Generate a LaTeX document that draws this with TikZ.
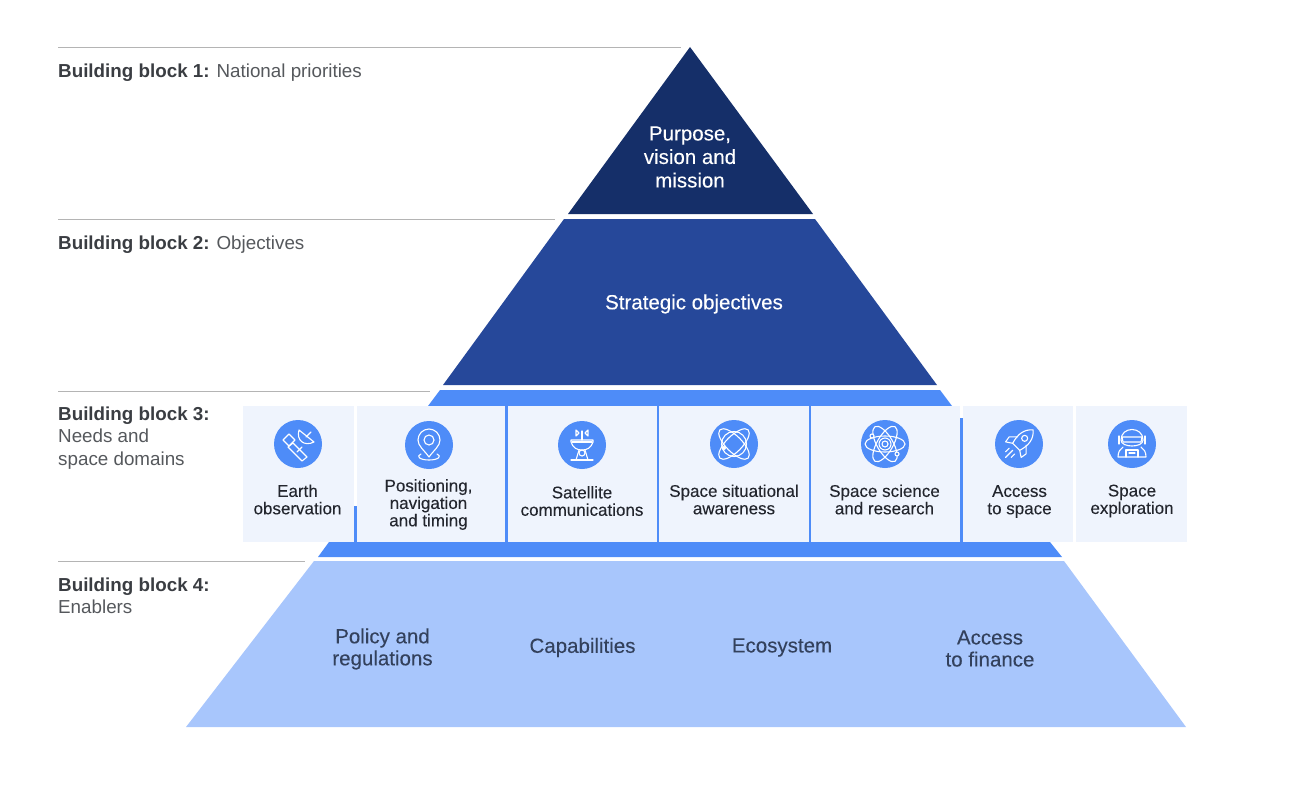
\documentclass[tikz,border=0pt]{standalone}
\usepackage{fontspec}
\setmainfont{Liberation Sans}
\newfontfamily\mediumfont[FakeBold=0.15]{Liberation Sans}
\usetikzlibrary{calc}

\definecolor{navytop}{HTML}{152F69}
\definecolor{navymid}{HTML}{26489A}
\definecolor{bandblue}{HTML}{4E8CF8}
\definecolor{paleblue}{HTML}{A8C6FC}
\definecolor{panelblue}{HTML}{EFF4FD}
\definecolor{rulegrey}{HTML}{B4B4B4}
\definecolor{labelgrey}{HTML}{55585C}
\definecolor{labeldark}{HTML}{3A3D42}
\definecolor{itemdark}{HTML}{23262E}
\definecolor{enablergrey}{HTML}{33415C}

\tikzset{
    blocklabel/.style={anchor=north west, align=left, inner sep=0pt, text=labelgrey, font=\fontsize{18.8}{22.4}\selectfont},
    tiertext/.style={align=center, inner sep=0pt, text=white, font=\mediumfont\fontsize{20.5}{23.5}\selectfont},
    itemtext/.style={align=center, inner sep=0pt, text=itemdark, font=\mediumfont\fontsize{17}{17.4}\selectfont},
    enablertext/.style={align=center, inner sep=0pt, text=enablergrey, font=\mediumfont\fontsize{20.5}{22}\selectfont},
    glyph/.style={draw=white, line width=1.1pt, line join=round, line cap=round},
}

\newcommand{\iconbase}[2]{\fill [bandblue] (#1,#2) circle (24);}

\begin{document}
\begin{tikzpicture}[x=1pt, y=-1pt]
    \useasboundingbox (0,0) rectangle (1308,792);

    \coordinate (apex) at (690,47);
    \coordinate (baseL) at (568,214);
    \coordinate (baseR) at (813,214);

    % pyramid tiers
    \fill [navytop] (apex) -- (baseR) -- (baseL) -- cycle;
    \fill [navymid] (564,219) -- (815,219) -- (937,385) -- (443,385) -- cycle;
    \fill [bandblue] (440,390) -- (940,390) -- (952,406) -- (428,406) -- cycle;
    \fill [bandblue] (329,542) -- (1050,542) -- (1062,557) -- (318,557) -- cycle;
    \fill [paleblue] (314,561) -- (1064,561) -- (1186,727) -- (186,727) -- cycle;

    % panels of the middle row
    \fill [panelblue] (243,406) rectangle (354,542);
    \fill [panelblue] (356.5,406) rectangle (505,542);
    \fill [panelblue] (507.5,406) rectangle (656.5,542);
    \fill [panelblue] (659,406) rectangle (808.5,542);
    \fill [panelblue] (811,406) rectangle (960,542);
    \fill [panelblue] (962.5,406) rectangle (1073,542);
    \fill [panelblue] (1076,406) rectangle (1187,542);
    \fill [bandblue] (354,506) rectangle (356.5,542);
    \fill [bandblue] (505,406) rectangle (507.5,542);
    \fill [bandblue] (656.5,406) rectangle (659,542);
    \fill [bandblue] (808.5,406) rectangle (811,542);
    \fill [bandblue] (960,418) rectangle (962.5,542);

    % rules and block labels
    \draw [rulegrey, line width=0.8pt] (58,47.5) -- (681,47.5);
    \draw [rulegrey, line width=0.8pt] (58,219.5) -- (555,219.5);
    \draw [rulegrey, line width=0.8pt] (58,391) -- (430,391);
    \draw [rulegrey, line width=0.8pt] (58,561) -- (305,561);

    \node [blocklabel] (blockone) at (58,63.5) {\textcolor{labeldark}{\textbf{Building block 1:}} National priorities};
    \node [blocklabel] (blocktwo) at (58,235.5) {\textcolor{labeldark}{\textbf{Building block 2:}} Objectives};
    \node [blocklabel] (blockthree) at (58,406.5) {\textcolor{labeldark}{\textbf{Building block 3:}}\\Needs and\\space domains};
    \node [blocklabel] (blockfour) at (58,577.5) {\textcolor{labeldark}{\textbf{Building block 4:}}\\Enablers};

    % tier texts
    \node [tiertext] (purpose) at (690,157) {Purpose,\\vision and\\mission};
    \node [tiertext] (strategic) at (694,304) {Strategic objectives};

    \node [enablertext] (policy) at (382.5,649) {Policy and\\regulations};
    \node [enablertext] (capabilities) at (582.5,647.5) {Capabilities};
    \node [enablertext] (ecosystem) at (782,647.5) {Ecosystem};
    \node [enablertext] (finance) at (990,648.5) {Access\\to finance};

    % item texts
    \node [itemtext] (earth) at (297.5,499.5) {Earth\\observation};
    \node [itemtext] (pnt) at (428.5,504.5) {Positioning,\\navigation\\and timing};
    \node [itemtext] (satcom) at (582,501) {Satellite\\communications};
    \node [itemtext] (ssa) at (734,499.5) {Space situational\\awareness};
    \node [itemtext] (science) at (884.5,499.5) {Space science\\and research};
    \node [itemtext] (access) at (1019.5,501.5) {Access\\to space};
    \node [itemtext] (explore) at (1132,501) {Space\\exploration};

    % icons
    \iconbase{298}{444}
    \begin{scope}[shift={(298,444)}, glyph]
        \draw (-9,-10) -- (-3,-4) -- (-9,2) -- (-15,-4) -- cycle;
        \draw (-5,-1) -- (9,13) -- (4,17) -- (-10,3) -- cycle;
        \draw (-1,8) -- (4,3);
        \draw (1,-14) .. controls (-2,-4) and (6,3) .. (16,-2) -- cycle;
        \draw (8,-7) -- (13,-12);
    \end{scope}

    \iconbase{429}{445}
    \begin{scope}[shift={(429,445)}, glyph]
        \draw (0,12) .. controls (-5,5) and (-11,1) .. (-11,-5) arc (180:360:11) .. controls (11,1) and (5,5) .. (0,12) -- cycle;
        \draw (0,-5) circle (5);
        \draw (-8,9) .. controls (-13,11) and (-10,15) .. (0,15) .. controls (10,15) and (13,11) .. (8,9);
    \end{scope}

    \iconbase{582}{445}
    \begin{scope}[shift={(582,445)}, glyph]
        \draw (-11,-5) -- (11,-5) -- (11,-3) .. controls (9,3) and (5,5) .. (0,5) .. controls (-5,5) and (-9,3) .. (-11,-3) -- cycle;
        \draw (-10,-3) -- (10,-3);
        \draw (0,8) circle (3);
        \draw (-3,5) -- (-6,15);
        \draw (3,5) -- (6,15);
        \draw (-11,15) -- (11,15);
        \draw (0,-5) -- (0,-14);
        \draw (-6,-15) -- (-3,-12) -- (-6,-9) -- cycle;
        \draw (6,-15) -- (3,-12) -- (6,-9) -- cycle;
    \end{scope}

    \iconbase{734}{444}
    \begin{scope}[shift={(734,444)}, glyph]
        \draw (0,0) circle (12.5);
        \draw [rotate=45] (0,0) ellipse (20 and 8);
        \draw [rotate=-45] (0,0) ellipse (20 and 8);
        \fill [white] (-10,4) circle (2);
    \end{scope}

    \iconbase{885}{444}
    \begin{scope}[shift={(885,444)}, glyph]
        \draw (0,0) ellipse (20 and 8);
        \draw [rotate=60] (0,0) ellipse (20 and 8);
        \draw [rotate=-60] (0,0) ellipse (20 and 8);
        \draw (0,0) circle (3);
        \draw (0,0) circle (6);
        \draw [fill=bandblue] (-13,-8) circle (2);
        \draw [fill=bandblue] (12,10) circle (2);
    \end{scope}

    \iconbase{1019}{444}
    \begin{scope}[shift={(1019,444)}, rotate=-45, glyph]
        \draw (0,-20) .. controls (7,-14) and (8,-6) .. (5,4) -- (-5,4) .. controls (-8,-6) and (-7,-14) .. (0,-20) -- cycle;
        \draw (0,-8) circle (3);
        \draw (-6,-4) -- (-12,2) -- (-11,8) -- (-5,4);
        \draw (6,-4) -- (12,2) -- (11,8) -- (5,4);
        \draw (-4,10) -- (-4,15);
        \draw (0,9) -- (0,19);
        \draw (4,10) -- (4,15);
    \end{scope}

    \iconbase{1132}{444}
    \begin{scope}[shift={(1132,444)}, glyph]
        \draw (-11,-4) .. controls (-11,-18) and (11,-18) .. (11,-4) .. controls (11,4) and (-11,4) .. (-11,-4) -- cycle;
        \draw (-10,-7) -- (10,-7) -- (9,-2) -- (-9,-2) -- cycle;
        \draw (-13,-8) -- (-13,0);
        \draw (13,-8) -- (13,0);
        \draw (-9,3) .. controls (-12,5) and (-14,8) .. (-14,13) -- (14,13) .. controls (14,8) and (12,5) .. (9,3);
        \draw (-6,13) -- (-6,6) -- (6,6) -- (6,13);
        \draw (-3,9) -- (3,9);
    \end{scope}
\end{tikzpicture}
\end{document}
